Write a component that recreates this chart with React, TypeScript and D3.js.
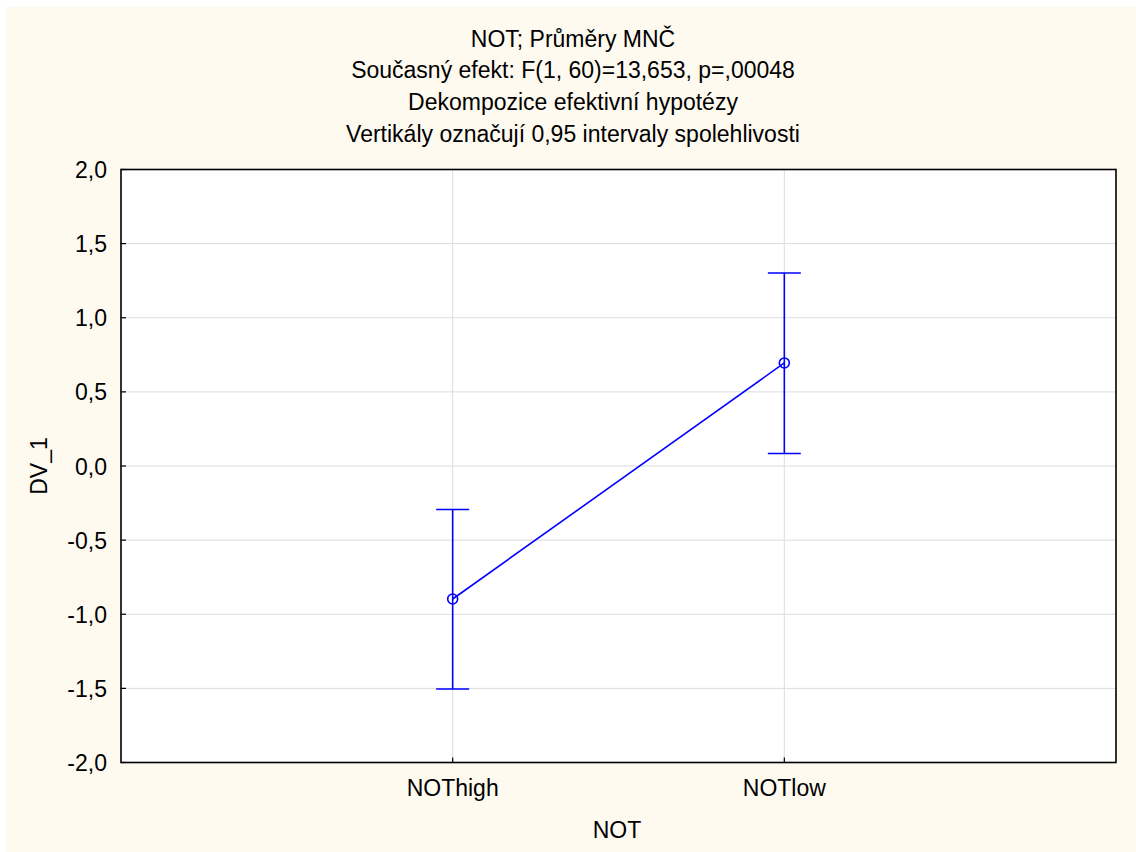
import React from "react";
import * as d3 from "d3";

const categories = ["NOThigh", "NOTlow"];
const means = [-0.897, 0.695];
const upper = [-0.293, 1.302];
const lower = [-1.504, 0.084];
const yTicks = [-2.0, -1.5, -1.0, -0.5, 0.0, 0.5, 1.0, 1.5, 2.0];
const titleLines = [
  "NOT; Průměry MNČ",
  "Současný efekt: F(1, 60)=13,653, p=,00048",
  "Dekompozice efektivní hypotézy",
  "Vertikály označují 0,95 intervaly spolehlivosti",
];
const xTitle = "NOT";
const yTitle = "DV_1";

const W = 1136;
const H = 852;
const L = 121, R = 1116, T = 169.5, B = 762.5;
const FONT = "'Liberation Sans', Arial, sans-serif";
const FS = 23;
const BLUE = "#0000ff";

export default function App() {
  const x = d3.scalePoint<string>().domain(categories).range([L, R]).padding(1);
  const y = d3.scaleLinear().domain([-2, 2]).range([B, T]);
  const fmt = (v: number) => v.toFixed(1).replace(".", ",");
  const line = d3
    .line<number>()
    .x((_, i) => x(categories[i]) as number)
    .y((d) => y(d));
  const cap = 16.5;

  return (
    <svg
      width={W}
      height={H}
      style={{ position: "absolute", left: 0, top: 0, background: "#ffffff" }}
      fontFamily={FONT}
    >
      <rect x={6} y={7} width={W - 6} height={H - 7} fill="#fffaf0" />
      {titleLines.map((t, i) => (
        <text key={i} x={573} y={46.5 + i * 31.7} textAnchor="middle" fontSize={FS} fill="#000">
          {t}
        </text>
      ))}
      <rect x={L} y={T} width={R - L} height={B - T} fill="#ffffff" />
      {/* gridlines */}
      {yTicks.slice(1, -1).map((t) => (
        <line key={"gy" + t} x1={L} x2={R} y1={y(t)} y2={y(t)} stroke="#dcdcdc" strokeWidth={1} />
      ))}
      {categories.map((c) => (
        <line key={"gx" + c} x1={x(c)} x2={x(c)} y1={T} y2={B} stroke="#dcdcdc" strokeWidth={1} />
      ))}
      {/* ticks */}
      {yTicks.map((t) => (
        <g key={"yt" + t}>
          <line x1={L} x2={L + 5} y1={y(t)} y2={y(t)} stroke="#000" strokeWidth={1.2} />
          <text x={107} y={y(t) + 8.5} textAnchor="end" fontSize={FS} fill="#000">
            {fmt(t)}
          </text>
        </g>
      ))}
      {categories.map((c) => (
        <g key={"xt" + c}>
          <line x1={x(c)} x2={x(c)} y1={B} y2={B - 5} stroke="#000" strokeWidth={1.2} />
          <text x={x(c)} y={796} textAnchor="middle" fontSize={FS} fill="#000">
            {c}
          </text>
        </g>
      ))}
      <rect x={L} y={T} width={R - L} height={B - T} fill="none" stroke="#000" strokeWidth={1.6} />
      {/* axis titles */}
      <text x={617} y={838} textAnchor="middle" fontSize={FS} fill="#000">
        {xTitle}
      </text>
      <text
        transform={`translate(46.5,${(T + B) / 2}) rotate(-90)`}
        textAnchor="middle"
        fontSize={FS}
        fill="#000"
      >
        {yTitle}
      </text>
      {/* error bars */}
      {categories.map((c, i) => {
        const cx = x(c) as number;
        return (
          <g key={"eb" + c} stroke={BLUE} strokeWidth={1.6} fill="none">
            <line x1={cx} x2={cx} y1={y(upper[i])} y2={y(lower[i])} />
            <line x1={cx - cap} x2={cx + cap} y1={y(upper[i])} y2={y(upper[i])} />
            <line x1={cx - cap} x2={cx + cap} y1={y(lower[i])} y2={y(lower[i])} />
          </g>
        );
      })}
      <path d={line(means) || ""} stroke={BLUE} strokeWidth={1.6} fill="none" />
      {categories.map((c, i) => (
        <circle
          key={"pt" + c}
          cx={x(c)}
          cy={y(means[i])}
          r={5}
          fill="none"
          stroke={BLUE}
          strokeWidth={1.6}
        />
      ))}
    </svg>
  );
}
